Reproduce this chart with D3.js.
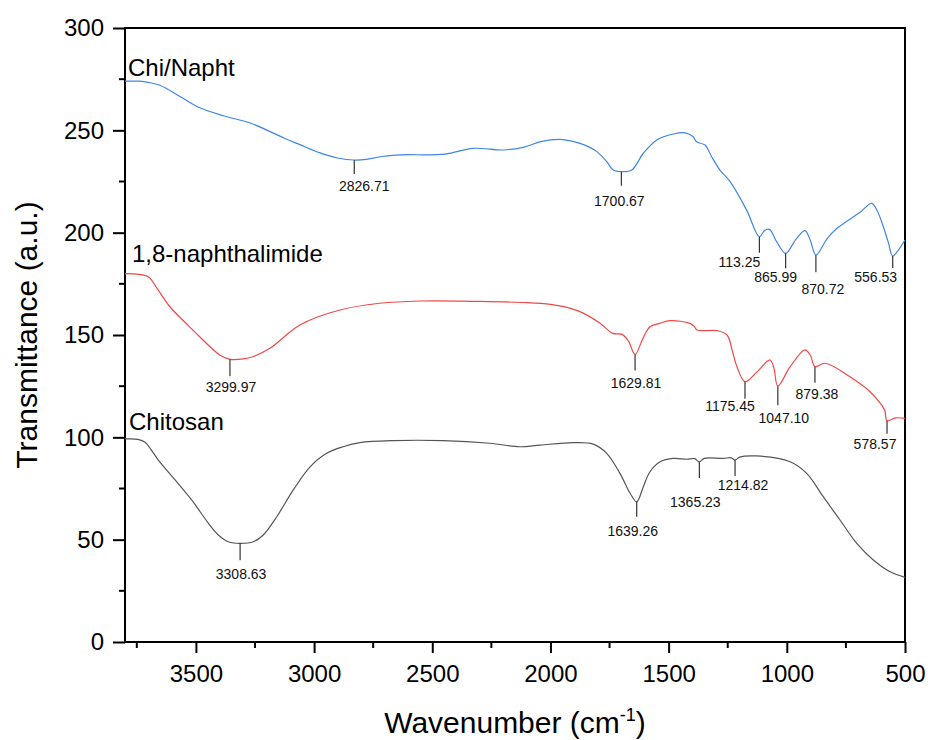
<!DOCTYPE html>
<html>
<head>
<meta charset="utf-8">
<script src="https://cdn.jsdelivr.net/npm/d3@7"></script>
<style>
  html, body { margin: 0; padding: 0; background: #fff; }
  svg { display: block; font-family: "Liberation Sans", Arial, sans-serif; }
</style>
</head>
<body>
<svg id="chart" width="928" height="740"></svg>
<script>
// ---------------- DATA ----------------
const xTickValues = [3500, 3000, 2500, 2000, 1500, 1000, 500];
const xMinorTicks = [3750, 3250, 2750, 2250, 1750, 1250, 750];
const yTickValues = [0, 50, 100, 150, 200, 250, 300];
const yMinorTicks = [25, 75, 125, 175, 225, 275];

const seriesNames = ["Chi/Napht", "1,8-naphthalimide", "Chitosan"];

const chiNaphtWn = [3800, 3740, 3700, 3652, 3560, 3483, 3380, 3271, 3123, 3060, 2975, 2900, 2830, 2780, 2720, 2637, 2446, 2328, 2199, 2115, 2040, 1960, 1875, 1804, 1762, 1734, 1700, 1656, 1607, 1550, 1480, 1431, 1396, 1382, 1346, 1318, 1283, 1240, 1170, 1116, 1095, 1074, 1040, 1005, 960, 923, 900, 877, 830, 789, 690, 641, 615, 592, 570, 552, 525, 500];
const chiNaphtT  = [274, 274, 273.4, 272, 266, 261, 257, 253.6, 246, 243, 239, 236.5, 235.5, 235.8, 237.1, 238, 238.4, 241.2, 240.4, 241.7, 244.5, 245.6, 243.6, 239.6, 234.7, 230.6, 229.8, 230.6, 238.8, 245.3, 248.2, 248.8, 246.9, 244.4, 242.8, 237.1, 230.6, 224.9, 211, 198, 201, 201.6, 195, 189.9, 197, 201, 196, 189, 197, 202, 210, 214.3, 210, 203, 195, 188.6, 192, 196.4];

const naphWn = [3800, 3740, 3700, 3660, 3610, 3540, 3483, 3399, 3356, 3300, 3259, 3187, 3060, 2891, 2722, 2553, 2300, 2100, 2000, 1950, 1875, 1790, 1736, 1697, 1670, 1642, 1610, 1579, 1537, 1494, 1410, 1390, 1380, 1295, 1253, 1230, 1211, 1177, 1126, 1071, 1055, 1038, 986, 923, 900, 881, 838, 733, 648, 600, 585, 576, 540, 500];
const naphT  = [180, 179.6, 178.3, 172, 163.8, 155.5, 149, 140.2, 138.1, 138.3, 139.4, 143.5, 154.9, 162.2, 165.5, 166.6, 166.4, 165.8, 165, 164, 161.4, 155.7, 150.8, 150.3, 147, 140.5, 148, 154, 155.7, 157, 155.7, 154, 152.4, 152.1, 150, 142, 134.5, 127.2, 132, 137.8, 134, 125, 134.5, 142.7, 140, 134.5, 136.2, 129.6, 122.3, 116, 113, 108.1, 109.5, 109.3];

const chitosanWn = [3800, 3745, 3715, 3690, 3659, 3588, 3518, 3447, 3405, 3363, 3313, 3257, 3215, 3158, 3088, 3017, 2947, 2877, 2806, 2665, 2455, 2256, 2129, 2044, 1903, 1819, 1762, 1706, 1663, 1635, 1607, 1579, 1536, 1480, 1424, 1390, 1370, 1350, 1270, 1235, 1219, 1200, 1128, 986, 916, 846, 775, 704, 634, 563, 500];
const chitosanT  = [99.2, 99, 97.6, 94, 88.9, 79.2, 69.4, 58, 52.3, 49, 48.2, 49, 52.3, 61.2, 74.3, 85.6, 92.2, 95.4, 97.4, 98.4, 98.4, 97.1, 95.4, 96.2, 97.4, 96.7, 92.2, 82.4, 72.7, 68.5, 75.9, 83.2, 88.1, 89.7, 89.3, 89.6, 88.0, 89.7, 89.7, 90.0, 88.9, 90.3, 90.9, 88.1, 82.4, 71, 59.6, 48.2, 40.1, 34.3, 31.6];

// peak annotations: series index, plotted wavenumber, printed label
const peakSeries = [0, 0, 0, 0, 0, 0, 1, 1, 1, 1, 1, 1, 2, 2, 2, 2];
const peakWn     = [2830, 1700, 1116, 1005, 877, 552, 3356, 1642, 1177, 1038, 881, 576, 3313, 1635, 1370, 1219];
const peakText   = ["2826.71", "1700.67", "113.25", "865.99", "870.72", "556.53", "3299.97", "1629.81", "1175.45", "1047.10", "879.38", "578.57", "3308.63", "1639.26", "1365.23", "1214.82"];

// ---------------- LAYOUT ----------------
const peakLabelDx = [10, -2, -20, -10, 7, -17, 1, 1, -15, 6, 2, -12, 1, -4, -4, 8];
const peakLabelDy = [17, 20, 14, 14, 22, 14, 16, 18, 12, 18, 16, 15, 19, 19, 29, 14];
const peakLineLen = [14, 14, 16, 15, 17, 12, 17, 16, 17, 19, 16, 13, 17, 15, 16, 16];
const colors = ["#3f86e6", "#f04848", "#555555"];

const svg = d3.select("#chart");
const x = d3.scaleLinear().domain([3800, 500]).range([125, 905]);
const y = d3.scaleLinear().domain([0, 300]).range([642, 28]);

// axes
const xAxis = svg.append("g").attr("transform", "translate(0,642)")
  .call(d3.axisBottom(x).tickValues(xTickValues).tickSize(11).tickPadding(12).tickFormat(d3.format("d")));
xAxis.select(".domain").remove();
xAxis.selectAll("line").attr("stroke", "#000").attr("stroke-width", 2);
xAxis.selectAll("text").attr("font-size", 24).attr("fill", "#000").attr("font-family", "Liberation Sans, Arial, sans-serif");

svg.append("g").selectAll("line").data(xMinorTicks).join("line")
  .attr("x1", d => x(d)).attr("x2", d => x(d)).attr("y1", 642).attr("y2", 648)
  .attr("stroke", "#000").attr("stroke-width", 2);

const yAxis = svg.append("g").attr("transform", "translate(125,0)")
  .call(d3.axisLeft(y).tickValues(yTickValues).tickSize(12).tickPadding(9));
yAxis.select(".domain").remove();
yAxis.selectAll("line").attr("stroke", "#000").attr("stroke-width", 2);
yAxis.selectAll("text").attr("font-size", 24).attr("fill", "#000").attr("font-family", "Liberation Sans, Arial, sans-serif");

svg.append("g").selectAll("line").data(yMinorTicks).join("line")
  .attr("x1", 119).attr("x2", 125).attr("y1", d => y(d)).attr("y2", d => y(d))
  .attr("stroke", "#000").attr("stroke-width", 2);

// frame
svg.append("rect").attr("x", 125).attr("y", 28).attr("width", 780).attr("height", 614)
  .attr("fill", "none").attr("stroke", "#000").attr("stroke-width", 2);

// series
const seriesData = [
  chiNaphtWn.map((w, i) => [w, chiNaphtT[i]]),
  naphWn.map((w, i) => [w, naphT[i]]),
  chitosanWn.map((w, i) => [w, chitosanT[i]])
];
const line = d3.line().x(d => x(d[0])).y(d => y(d[1])).curve(d3.curveCatmullRom.alpha(0.5));
svg.append("g").selectAll("path").data(seriesData).join("path")
  .attr("d", line).attr("fill", "none")
  .attr("stroke", (d, i) => colors[i]).attr("stroke-width", 1.2);

function valueAt(data, w) {
  for (let i = 0; i < data.length - 1; i++) {
    const a = data[i], b = data[i + 1];
    if (w <= a[0] && w >= b[0]) {
      const t = (a[0] - w) / (a[0] - b[0]);
      return a[1] + t * (b[1] - a[1]);
    }
  }
  return data[data.length - 1][1];
}

// peaks
const pg = svg.append("g");
peakWn.forEach((w, i) => {
  const v = valueAt(seriesData[peakSeries[i]], w);
  const px = x(w), py = y(v);
  const endY = py + peakLineLen[i];
  pg.append("line").attr("x1", px).attr("x2", px).attr("y1", py).attr("y2", endY)
    .attr("stroke", "#333").attr("stroke-width", 1.2);
  pg.append("text").attr("x", px + peakLabelDx[i]).attr("y", endY + peakLabelDy[i])
    .attr("text-anchor", "middle").attr("font-size", 14).attr("fill", "#111")
    .text(peakText[i]);
});

// series labels
const labelPos = [[128, 76], [132, 262], [129, 430]];
svg.append("g").selectAll("text").data(seriesNames).join("text")
  .attr("x", (d, i) => labelPos[i][0]).attr("y", (d, i) => labelPos[i][1])
  .attr("font-size", 24).attr("fill", "#000").text(d => d);

// axis titles
const xt = svg.append("text").attr("x", 515).attr("y", 733).attr("text-anchor", "middle")
  .attr("font-size", 30).attr("fill", "#000");
xt.append("tspan").text("Wavenumber (cm");
xt.append("tspan").attr("font-size", 18).attr("dy", -12).text("-1");
xt.append("tspan").attr("dy", 12).text(")");

svg.append("text").attr("transform", "translate(37,335) rotate(-90)")
  .attr("text-anchor", "middle").attr("font-size", 30).attr("fill", "#000")
  .text("Transmittance (a.u.)");
</script>
</body>
</html>
